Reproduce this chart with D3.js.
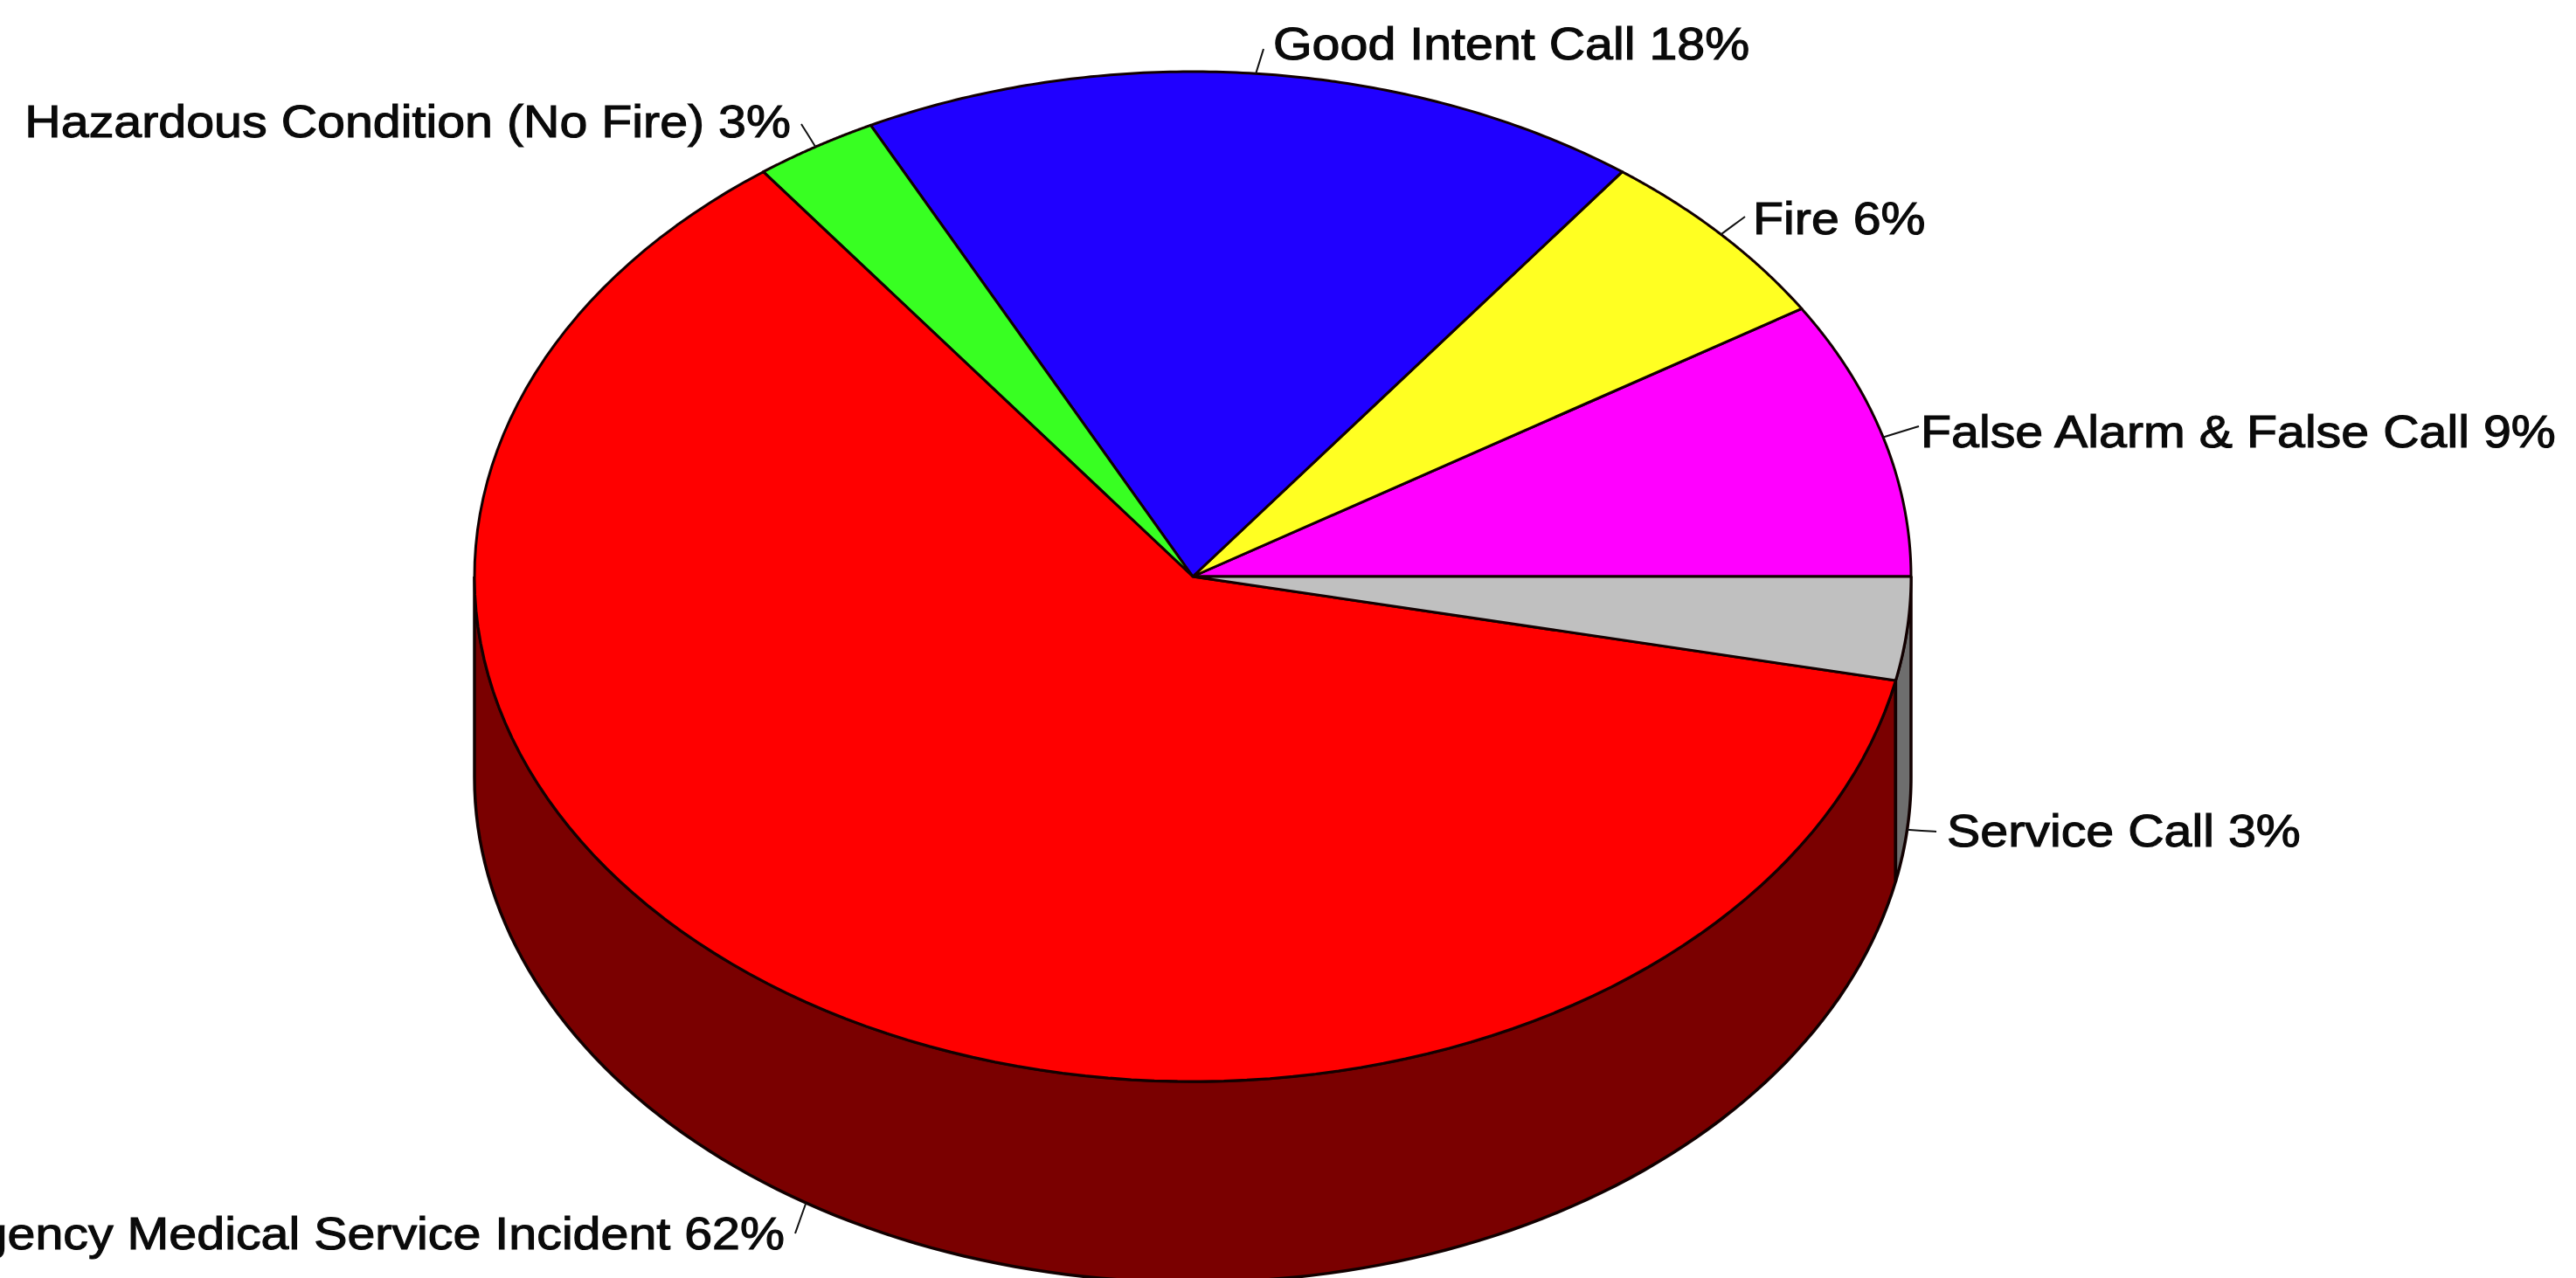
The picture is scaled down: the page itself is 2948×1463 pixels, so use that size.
<!DOCTYPE html>
<html><head><meta charset="utf-8">
<style>html,body{margin:0;background:#fff;overflow:hidden}text{font-family:"Liberation Sans",Arial,sans-serif;fill:#0a0a0a}</style>
<script src="https://cdn.jsdelivr.net/npm/d3@7/dist/d3.min.js"></script></head><body>
<script>
const categories=["False Alarm & False Call","Fire","Good Intent Call","Hazardous Condition (No Fire)","Emergency Medical Service Incident","Service Call"];
const values=[8.9,5.9,17.6,2.8,61.5,3.3];
const colors=["#ff00ff","#ffff22","#2000ff","#38ff22","#ff0000","#c0c0c0"];
const sideColors=["#7a007a","#7a7a00","#10007a","#107a10","#7a0000","#6e6e6e"];
const W=2948,H=1463,cx=1365,cy=660,rx=822,ry=578,depth=230;
const svg=d3.select("body").append("svg").attr("width",W).attr("height",H).style("display","block");
const total=d3.sum(values);
const angle=d3.scaleLinear().domain([0,total]).range([0,2*Math.PI]);
const cum=d3.cumsum(values);
const slices=values.map((v,i)=>({i,v,a0:angle(cum[i]-v),a1:angle(cum[i])}));
const px=(a)=>cx+rx*Math.cos(a), py=(a,d=0)=>cy-ry*Math.sin(a)+d;
const arcPts=(a0,a1,d=0)=>d3.range(0,121).map(k=>{const a=a0+(a1-a0)*k/120;return [px(a),py(a,d)];});
const line=d3.line();
const edge="#120000";
const g=svg.append("g");
slices.forEach(s=>{
  const lo=Math.max(s.a0,Math.PI), hi=Math.min(s.a1,2*Math.PI);
  if(hi<=lo) return;
  const pts=arcPts(lo,hi,0).concat(arcPts(lo,hi,depth).reverse());
  g.append("path").attr("d",line(pts)+"Z").attr("fill",sideColors[s.i]).attr("stroke",edge).attr("stroke-width",3.5);
});
slices.forEach(s=>{
  const pts=[[cx,cy]].concat(arcPts(s.a0,s.a1));
  g.append("path").attr("d",line(pts)+"Z").attr("fill",colors[s.i]).attr("stroke",edge).attr("stroke-width",3).attr("stroke-linejoin","round");
});
const labelPos=[{x:2198,y:512,anchor:"start",lx:2196,ly:488,d:0},
{x:2006,y:268,anchor:"start",lx:1997,ly:248,d:0},
{x:1457,y:68,anchor:"start",lx:1446,ly:56,d:0},
{x:905,y:157,anchor:"end",lx:917,ly:142,d:0},
{x:898,y:1430,anchor:"end",lx:910,ly:1412,d:depth},
{x:2228,y:969,anchor:"start",lx:2216,ly:952,d:depth}];
const hScale=1.125;
slices.forEach(s=>{
  const p=labelPos[s.i], m=(s.a0+s.a1)/2, ax=px(m), ay=py(m,p.d);
  svg.append("path").attr("d",d3.line().curve(d3.curveBasis)([[ax,ay],[(ax+p.lx)/2,(ay+p.ly)/2],[p.lx,p.ly]])).attr("fill","none").attr("stroke","#111").attr("stroke-width",2);
  svg.append("text").attr("transform",`translate(${p.x},${p.y}) scale(${hScale},1)`).attr("text-anchor",p.anchor).attr("font-size",51).attr("stroke","#0a0a0a").attr("stroke-width",1.1)
    .text(`${categories[s.i]} ${Math.round(s.v)}%`);
});
</script></body></html>
